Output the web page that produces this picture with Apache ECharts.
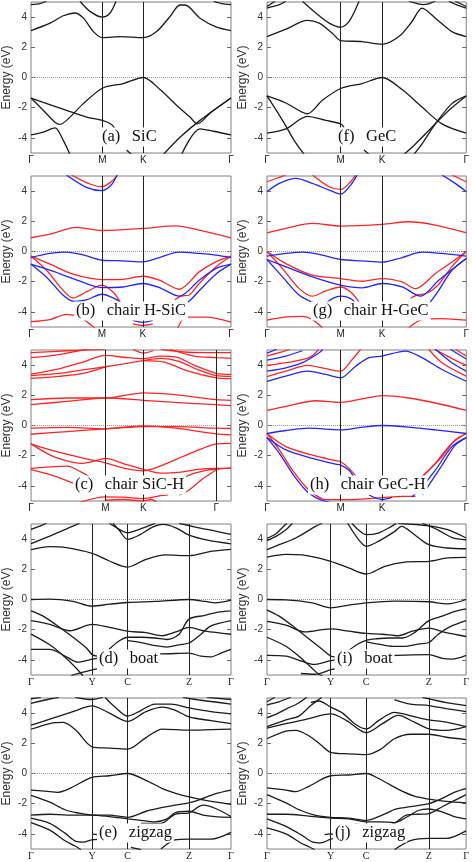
<!DOCTYPE html>
<html><head><meta charset="utf-8">
<script src="https://cdn.jsdelivr.net/npm/echarts@6/dist/echarts.min.js"></script>
<style>html,body{margin:0;padding:0;background:#fff}#c{width:472px;height:862px}</style>
</head><body><div id="c"></div>
<script>
// ---- high-symmetry points (fraction of path, %) ----
const hexNames = ['Γ','M','K','Γ'];
const rectNames = ['Γ','Y','C','Z','Γ'];
const kA = [0,35.7,56.2,100];
const kF = [0,37,57.8,100];
const kB = [0,35.5,55.9,100];
const kG = [0,37,57.8,100];
const kC = [0,40.2,60.7,100];
const kH = [0,37,57.8,100];
const kD = [0,30.6,48.3,79,100];
const kI = [0,32,49.8,81.3,100];
const kE = [0,30.5,48.3,79,100];
const kJ = [0,32,49.8,81.3,100];
const yTicks = [-4,-2,0,2,4];

// ---- bands: [k, E(eV)] ----
const aBlack = [
 [[0,3.11],[9.5,3.6],[16.2,4.09],[22,4.27],[26.2,3.93],[31.2,3.04],[35.7,2.64],[44.5,2.71],[56.2,2.64],[62.8,3.04],[69.5,4.04],[74.5,4.8],[77,4.8],[84.5,3.93],[92.8,3.33],[100,3.11]],
 [[24.5,5.05],[29.5,4.38],[35.7,4.0],[39.5,4.27],[42.5,5.05]],
 [[0,4.82],[4.5,4.89],[7.8,5.05]],
 [[91.2,5.05],[95.3,4.89],[100,4.82]],
 [[0,-1.36],[6.2,-2.18],[12,-2.96],[14.2,-3.11],[17.8,-2.84],[26.2,-1.73],[35.7,-0.71],[46.2,-0.4],[56.2,0],[64.5,-0.8],[72.8,-1.84],[79.5,-2.62],[83.2,-3.07],[89.5,-2.36],[100,-1.36]],
 [[0,-1.36],[17.8,-2.18],[27.8,-2.62],[35.7,-2.84],[40.3,-3.11],[42,-3.4]],
 [[0,-3.8],[6.2,-3.62],[12,-3.33],[16.2,-4.18],[19.5,-5.1]],
 [[100,-1.36],[84.5,-2.84],[74.5,-3.96],[66.2,-5.1]],
 [[75.3,-5.1],[84.5,-3.4],[91.2,-3.56],[100,-3.8]],
 [[47.8,-4.8],[50.3,-5.1]]
];
const fBlack = [
 [[0,2.71],[9.5,3.2],[20.3,3.78],[26.2,3.6],[32.8,2.93],[37,2.44],[47.8,2.38],[57.8,2.2],[66.2,2.71],[72.8,3.71],[77.8,4.6],[84.5,3.93],[92.8,3.04],[100,2.71]],
 [[17.8,5.05],[24.5,4.27],[31.2,3.6],[37,3.33],[41.2,3.71],[46.2,5.05]],
 [[0,4.6],[6.2,4.82],[9.5,5.05]],
 [[0,4.7],[4,5.05]],
 [[71.2,5.05],[78.7,4.82],[84.5,5.05]],
 [[91.2,5.05],[96.2,4.76],[100,4.6]],
 [[94.5,5.05],[100,4.7]],
 [[0,-1.22],[9.5,-1.69],[20.3,-2.4],[27.8,-1.51],[37,-0.73],[47.8,-0.4],[57.8,0],[67.8,-0.8],[77.8,-1.96],[87.8,-3.07],[100,-3.69]],
 [[0,-1.22],[7.8,-2.84],[13.7,-4.18],[18.7,-5.1]],
 [[0,-3.69],[9.5,-3.4],[20.3,-2.58],[29.5,-2.84],[37,-3.07],[38.7,-3.3]],
 [[100,-1.22],[91.2,-2.18],[82.8,-3.29],[74.5,-4.4],[68.7,-5.1]],
 [[100,-1.22],[92.8,-1.73],[84.5,-3.07],[77.8,-4.4],[73.7,-5.1]],
 [[48.7,-4.8],[51.2,-5.1]]
];
const bRed = [
 [[0,0.91],[9.5,1.15],[22.7,1.6],[35.5,1.39],[55.9,1.53],[72.5,1.7],[84.1,1.42],[100,0.91]],
 [[20.2,5.07],[29.4,4.47],[35.5,4.29],[40.1,4.62],[43.4,5.07]],
 [[0,-0.31],[9.5,-0.84],[21,-1.5],[35.5,-1.86],[45.9,-1.84],[55.9,-1.64],[64.2,-1.9],[74.1,-2.5],[84.1,-1.35],[92.4,-0.69],[100,-0.31]],
 [[0,-0.31],[7.8,-1.24],[15.3,-2.46],[21,-3.08],[27.7,-2.68],[35.5,-2.23],[41,-2.68],[45.1,-3.45]],
 [[100,-0.31],[92.4,-1.02],[84.1,-2.12],[79.1,-2.88],[75,-2.95],[72,-3.2]],
 [[0,-4.65],[9.5,-4.51],[17.7,-4.16],[24.4,-4.34],[30.2,-4.89],[32,-5.1]],
 [[73.3,-5.1],[77.4,-4.34],[87.4,-4.34],[100,-4.67]],
 [[50.9,-4.8],[55.9,-4.9],[60.9,-4.8]]
];
const bBlue = [
 [[17.7,5.07],[27.7,4.25],[35.5,4.03],[40.1,4.4],[43,5.07]],
 [[0,-0.4],[9.5,-0.13],[17.7,-0.04],[26,-0.22],[35.5,-0.58],[45.9,-0.62],[55.9,-0.69],[64.2,-0.4],[74.1,-0.04],[84.1,-0.13],[92.4,-0.24],[100,-0.4]],
 [[0,-0.84],[9.5,-1.24],[21,-1.79],[35.5,-2.39],[45.9,-2.35],[55.9,-2.12],[64.2,-2.39],[74.1,-2.96],[84.1,-1.9],[92.4,-1.13],[100,-0.84]],
 [[0,-0.84],[7.8,-1.7],[16.1,-2.9],[21.5,-3.3],[27.7,-3.2],[35.5,-2.83],[41.8,-3.12],[45.9,-3.5]],
 [[100,-0.84],[92.4,-1.5],[84.1,-2.6],[79,-3.3],[75,-3.6]],
 [[50.9,-4.56],[55.9,-4.69],[60.9,-4.56]]
];
const gRed = [
 [[0,4.62],[6.2,4.91],[9.5,5.07]],
 [[22.8,5.07],[31.2,4.29],[37,4.11],[42,4.62],[44.5,5.07]],
 [[92.8,5.07],[100,4.62]],
 [[0,1.24],[9.5,1.53],[22.8,1.86],[37,1.68],[57.8,1.79],[71.2,1.97],[84.5,1.75],[100,1.24]],
 [[0,0],[9.5,-0.8],[22.8,-1.57],[37,-1.79],[47.8,-1.97],[57.8,-1.79],[67.8,-2.01],[74.5,-2.46],[84.5,-1.46],[92.8,-0.69],[100,0]],
 [[0,0],[7.8,-1.13],[16.2,-2.46],[22.8,-2.96],[29.5,-2.61],[37,-2.35],[42,-2.68],[46.2,-3.34]],
 [[100,0],[92.8,-1.0],[86,-2.2],[80.5,-2.75],[75,-2.9],[72,-3.1]],
 [[0,-4.55],[9.5,-4.33],[17.8,-4.29],[22.8,-4.51],[27.8,-5.05]],
 [[71.2,-5.05],[77.8,-4.51],[87.8,-4.44],[100,-4.55]]
];
const gBlue = [
 [[0,3.96],[6.2,4.51],[14.5,4.84],[22.8,4.51],[31.2,4.07],[37,3.8],[42,4.4],[45.3,5.07]],
 [[87.8,5.07],[94.5,4.51],[100,3.96]],
 [[0,-0.31],[9.5,-0.13],[17.8,-0.04],[27.8,-0.24],[37,-0.53],[47.8,-0.62],[57.8,-0.71],[67.8,-0.4],[77.8,-0.04],[87.8,-0.13],[100,-0.31]],
 [[0,-0.53],[9.5,-1.02],[22.8,-1.68],[37,-2.23],[47.8,-2.41],[57.8,-2.12],[67.8,-2.35],[77,-2.96],[86.2,-1.9],[100,-0.46]],
 [[0,-0.53],[7.8,-1.68],[16.2,-2.9],[24.5,-3.45],[27.8,-3.5],[32.8,-3.12],[37,-2.96],[42,-3.12],[44.5,-3.45]],
 [[100,-0.46],[92.8,-1.24],[86.2,-2.57],[81.2,-3.45],[77.8,-3.67]]
];
const cRed = [
 [[0,4.82],[20,4.95],[40.2,5.05]],
 [[0,4.49],[15,4.7],[28,5.0],[32,5.1]],
 [[0,3.4],[15,3.75],[28,4.2],[40.2,4.64],[50,4.52],[60.7,4.42],[70,4.6],[78,4.55],[88,4.0],[100,3.45],[108,3.38]],
 [[0,3.3],[15,3.45],[28,3.68],[40.2,3.89],[50,4.08],[60.7,4.3],[70,4.45],[80,4.25],[90,3.7],[100,3.3],[108,3.25]],
 [[0,3.12],[15,3.25],[28,3.45],[40.2,3.89]],
 [[60.7,4.3],[72,4.2],[85,3.6],[100,3.15],[108,3.1]],
 [[70,5.05],[85,4.85],[100,4.82],[108,4.82]],
 [[75,5.05],[88,4.6],[100,4.5],[108,4.45]],
 [[55,5.05],[60.7,4.8],[66,4.95]],
 [[0,1.71],[19.6,1.82],[40.2,1.82],[60.7,2.16],[78,2.04],[100,1.71],[108,1.67]],
 [[0,1.38],[19.6,1.6],[40.2,1.82],[60.7,1.67],[78,1.53],[100,1.38],[108,1.31]],
 [[0,-0.18],[19.6,-0.13],[40.2,-0.22],[60.7,-0.07],[78,-0.07],[100,-0.18],[108,-0.2]],
 [[0,-0.58],[19.6,-0.4],[40.2,-0.22],[60.7,-0.02],[78,-0.18],[100,-0.56],[108,-0.62]],
 [[0,-1.22],[10.4,-1.62],[28.7,-2.18],[40.2,-2.47],[50.6,-2.84],[60.7,-3.0],[68.9,-2.73],[81.7,-2.07],[92.7,-1.51],[100,-1.22],[108,-1.18]],
 [[0,-1.22],[10.4,-1.96],[21,-2.4],[27,-2.51],[36,-2.3],[40.2,-2.18],[50.6,-2.55],[60.7,-2.9],[70,-3.15],[80,-3.1],[90,-2.9],[100,-2.84],[108,-2.84]],
 [[0,-2.84],[19.6,-2.69],[26.9,-3.07],[34,-3.6],[38,-4.2]],
 [[0,-2.93],[14,-3.4],[28,-4.1]],
 [[70.4,-4.3],[85,-3.3],[95,-2.95],[100,-2.9],[108,-2.8]],
 [[100,-2.95],[92,-3.6],[85,-4.3],[80,-4.6]],
 [[26,-5.1],[40.2,-4.73],[50,-4.75],[60.7,-4.84],[70,-4.65],[74,-4.6]],
 [[40.2,-4.95],[50,-4.9],[60.7,-5.0],[65,-4.9],[68,-5.1]]
];
const hRed = [
 [[0,3.24],[9.5,3.6],[20.3,3.98],[29.5,3.76],[37,3.6],[42.8,4.38],[47,5.05]],
 [[81.2,5.05],[87.8,4.16],[100,3.27]],
 [[0,3.98],[9.5,4.16],[21.2,4.49],[26,5.05]],
 [[84,5.05],[92,4.5],[100,3.98]],
 [[0,4.6],[6.2,4.82],[11.5,5.05]],
 [[94.5,5.05],[100,4.6]],
 [[0,1.0],[9.5,1.27],[24.5,1.64],[37,1.53],[47.8,1.76],[57.8,1.98],[71.2,1.82],[84.5,1.49],[100,1.0]],
 [[0,-0.53],[9.5,-1.4],[22.8,-1.96],[34.5,-2.33],[37,-2.4],[41.2,-2.84],[46.2,-3.62]],
 [[0,-0.53],[6.2,-1.62],[12.8,-2.96],[19.5,-4.07],[24.5,-4.62],[29.5,-4.91],[37,-4.91],[47.8,-4.87],[57.8,-4.78],[67.8,-4.69],[74.5,-4.69]],
 [[100,-0.53],[92.8,-1.18],[84.5,-2.51],[77.8,-3.4],[72.8,-4.07]],
 [[100,-0.53],[94.5,-0.96],[87.8,-2.07],[81.2,-2.96],[76.2,-3.62]]
];
const hBlue = [
 [[0,2.93],[9.5,3.27],[20.3,3.6],[29.5,3.38],[37,3.16],[44.5,3.93],[51.2,4.49],[57.8,4.6],[69.5,4.93],[77.8,4.49],[87.8,3.71],[100,2.93]],
 [[0,3.6],[9.5,3.82],[17.8,4.16],[26.2,4.82],[28,5.05]],
 [[84.5,5.05],[92.8,4.16],[100,3.6]],
 [[0,4.33],[9.5,4.6],[17.8,4.95]],
 [[92,5.05],[100,4.4]],
 [[0,4.8],[5,5.05]],
 [[0,-0.53],[9.5,-0.33],[21.2,-0.18],[37,-0.29],[47.8,-0.11],[57.8,0],[71.2,-0.11],[84.5,-0.29],[100,-0.53]],
 [[0,-0.8],[9.5,-1.62],[22.8,-2.18],[34.5,-2.56],[37,-2.62],[41.2,-2.96],[44.5,-3.62]],
 [[0,-0.8],[6.2,-1.84],[12.8,-3.18],[19.5,-4.29],[24.5,-4.78],[27.8,-4.96],[32,-5.1]],
 [[51.2,-4.6],[57.8,-4.9],[62.8,-4.76]],
 [[100,-0.8],[92.8,-1.4],[84.5,-2.96],[77.8,-4.07],[72.8,-4.73]],
 [[100,-0.8],[94.5,-1.3],[88,-2.6],[82,-3.8],[78,-4.6]]
];
const dBlack = [
 [[0,3.3],[9.4,3.5],[17.7,3.43],[30.6,3.05],[39.2,2.55],[48.3,2.15],[57.5,2.66],[67.4,2.95],[79,2.9],[90.6,3.2],[100,3.32]],
 [[0,3.7],[9.4,4.2],[21,4.86],[24.3,5.05]],
 [[0,4.64],[4.5,4.86],[7.8,5.05]],
 [[39.2,5.05],[44.2,4.64],[48.3,4.42],[54.1,4.64],[60.8,4.97],[62,5.05]],
 [[41,5.05],[44,4.6],[48.3,3.98],[54.1,4.26],[60.8,4.79],[65.7,4.97],[72.4,4.75],[79,4.26],[88.9,3.91],[100,3.69]],
 [[74,5.05],[83.9,4.75],[92.2,4.53],[100,4.31]],
 [[0,0],[9.4,0.02],[21,-0.13],[30.6,-0.44],[39.2,-0.31],[48.3,-0.2],[62.4,-0.13],[79,0],[87.3,-0.13],[92.2,-0.22],[100,-0.04]],
 [[0,-1.4],[9.4,-1.65],[19.4,-2.07],[30.6,-1.65],[39.2,-1.85],[48.3,-2.1],[57.5,-2.2],[65.7,-2.4],[72.4,-2.15],[79,-1.85],[87.3,-2.1],[100,-2.3]],
 [[0,-0.75],[6.1,-1.1],[14.4,-1.85],[21,-2.5],[27.6,-3.2],[30.6,-3.65],[33,-3.75]],
 [[0,-2.29],[9.4,-3.0],[17.7,-3.9],[23,-4.6],[26,-5.05]],
 [[0,-3.3],[9.4,-3.3],[17.7,-3.8],[23.5,-4.15],[30.6,-3.95],[33,-3.9]],
 [[20,-5.05],[25,-4.85],[30.6,-4.66],[33,-4.6]],
 [[39,-3.3],[44,-2.75],[48.3,-2.5],[55,-2.5],[62,-2.55],[68,-2.65],[74,-2.3],[79,-1.3],[87,-1.05],[93,-0.85],[100,-0.75]],
 [[48.3,-2.73],[55,-2.85],[62,-3.05],[68,-3.15],[74,-3.0],[79,-2.88],[85,-2.3],[90,-1.75],[100,-1.4]],
 [[45,-4.1],[55,-3.6],[65,-3.6],[79,-3.55],[85,-3.75],[90,-3.8],[95,-3.55],[100,-3.3]]
];
const iBlack = [
 [[0,2.8],[9.5,2.99],[17.7,2.95],[32,2.53],[41,2.09],[49.8,1.69],[59.2,2.2],[69.2,2.48],[81.3,2.53],[90.7,2.75],[100,2.79]],
 [[0,3.3],[6.1,3.63],[14.4,4.07],[24.4,4.84],[27.7,5.05]],
 [[0,3.9],[4.5,4.18],[9.5,4.62],[12.8,5.05]],
 [[0,4.05],[4.5,4.35],[8,4.8],[10,5.05]],
 [[42.6,5.05],[46,4.6],[49.8,4.29],[55.9,4.4],[62.5,4.84],[65,5.05]],
 [[40.5,5.05],[46,3.96],[49.8,3.52],[55.9,3.85],[64.2,4.51],[67.5,4.84],[74.1,4.29],[81.3,3.63],[90.7,3.41],[100,3.36]],
 [[65.8,5.05],[81.3,4.88],[90.7,4.62],[100,4.07]],
 [[78,5.05],[86,4.6],[93,4.1],[100,3.95]],
 [[0,0],[9.5,-0.02],[22.7,-0.22],[32,-0.55],[41,-0.37],[49.8,-0.22],[64.2,-0.11],[81.3,-0.15],[90.7,-0.29],[100,0]],
 [[0,-1.45],[9.5,-1.7],[19,-2.15],[32,-1.95],[41,-2.1],[49.8,-2.25],[58,-2.3],[66,-2.4],[73,-2.1],[81.3,-1.9],[90,-2.2],[100,-2.45]],
 [[0,-0.7],[6.1,-1.1],[14.4,-1.9],[21,-2.6],[27.7,-3.3],[32,-3.75],[34,-3.8]],
 [[0,-2.5],[9.5,-3.1],[17.7,-3.95],[23,-4.6],[26,-4.95],[28,-5.05]],
 [[0,-3.7],[9.5,-3.75],[17.7,-4.1],[23.5,-4.3],[32,-4.05],[34,-4.0]],
 [[17,-4.9],[24,-4.95],[32,-4.65],[34,-4.6]],
 [[40,-3.5],[45,-3.0],[49.8,-2.7],[55,-2.6],[62,-2.55],[68,-2.55],[74,-2.2],[81.3,-1.4],[88,-1.1],[94,-0.8],[100,-0.62]],
 [[49.8,-2.8],[56,-2.95],[63,-3.1],[70,-3.1],[76,-2.95],[81.3,-2.85],[86,-2.3],[92,-1.8],[100,-1.4]],
 [[45,-4.2],[55,-3.8],[65,-3.7],[81.3,-3.65],[88,-3.9],[93,-3.95],[100,-3.7]]
];
const eBlack = [
 [[0,2.93],[9.4,3.31],[16.1,3.38],[22.7,2.83],[30.5,1.77],[39.2,1.68],[48.3,1.61],[57.5,2.38],[65.7,2.94],[79,2.87],[90.6,2.91],[100,2.94]],
 [[0,3.2],[9.4,3.6],[21,4.1],[30.5,4.48],[39.2,4.0],[48.3,3.45],[57.5,4.1],[65.7,4.4],[72,4.2],[79,3.75],[90,3.5],[100,3.3]],
 [[37,5.05],[42,4.4],[48.3,3.8],[54,4.1],[62,4.6],[70,4.6],[79,4.35],[90,4.1],[100,3.95]],
 [[0,4.65],[10,4.95],[14,5.05]],
 [[0,4.95],[5,5.05]],
 [[22,5.05],[30.5,4.9],[36,5.05]],
 [[76,5.05],[85,4.85],[100,4.6]],
 [[88,5.05],[100,4.9]],
 [[0,-1.1],[9.4,-1.2],[13,-1.25],[20,-0.95],[30.5,-0.25],[39.2,-0.15],[48.3,0],[57.5,-0.45],[65.7,-1.0],[72,-1.3],[79,-1.55],[88,-1.8],[100,-2.05]],
 [[0,-1.45],[9.4,-1.9],[17,-2.4],[23,-2.6],[30.5,-2.75],[39.2,-2.75],[48.3,-2.9],[57.5,-2.5],[65.7,-2.25],[72,-2.1],[79,-1.95],[85,-1.7],[92,-1.35],[100,-1.1]],
 [[0,-2.75],[9.4,-2.7],[18,-2.75],[30.5,-2.75],[39.2,-2.85],[48.3,-3.0],[55,-3.1],[62,-3.2],[68,-3.0],[72,-2.6],[79,-2.5],[86,-2.75],[92,-2.85],[100,-2.9]],
 [[0,-2.95],[9.4,-3.3],[17,-3.95],[22.5,-4.5],[26,-4.55],[30.5,-4.4],[35,-4.35]],
 [[0,-3.25],[9.4,-3.75],[17,-4.45],[22,-4.8],[25,-5.05]],
 [[30.5,-4.0],[33,-4.05]],
 [[55,-3.3],[65,-3.3],[72,-2.7],[79,-2.6],[86,-2.1],[92,-2.3],[100,-2.85]],
 [[65,-5.0],[72,-4.4],[79,-4.35],[90,-4.35],[100,-3.9]],
 [[50,-4.9],[55,-5.05]]
];
const jBlack = [
 [[0,2.3],[9.5,2.8],[14.4,2.85],[21,2.5],[27,1.9],[32,1.4],[41,1.3],[49.8,1.25],[57,1.6],[64,2.3],[72,2.6],[81.3,2.6],[90,2.4],[100,2.25]],
 [[0,3.0],[9.5,3.3],[20,3.6],[32,3.95],[40,3.5],[49.8,2.7],[58,3.3],[66,3.85],[74,3.4],[81.3,2.95],[90,2.85],[100,3.1]],
 [[0,3.1],[9.5,3.55],[16,3.8],[22,4.5],[26,4.9],[27.5,5.05]],
 [[22,4.7],[26,4.8],[32,4.4],[38,4.0],[44,3.3],[49.8,2.95],[56,3.5],[64,4.05],[70,3.9],[76,3.7],[81.3,3.55],[90,3.4],[100,3.1]],
 [[0,3.7],[5,3.95],[10,4.3],[15,4.6],[20,5.05]],
 [[0,4.55],[6,4.75],[12,5.05]],
 [[0,4.75],[4,5.05]],
 [[64,4.9],[72,4.6],[81.3,4.5],[90,4.3],[100,4.1]],
 [[78,5.05],[90,4.7],[100,4.5]],
 [[0,-0.95],[9.5,-1.1],[14.4,-1.2],[21,-0.85],[32,-0.15],[41,-0.1],[49.8,0],[57,-0.4],[66,-1.05],[74,-1.5],[81.3,-1.7],[90,-1.85],[100,-1.95]],
 [[0,-1.4],[9.5,-1.95],[17,-2.45],[24,-2.75],[32,-2.9],[41,-2.95],[49.8,-3.1],[57,-2.8],[65,-2.35],[72,-2.2],[81.3,-2.0],[88,-1.65],[94,-1.25],[100,-1.0]],
 [[0,-2.7],[9.5,-2.7],[20,-2.8],[32,-2.95],[41,-3.0],[49.8,-3.2],[57,-3.2],[64,-3.25],[70,-2.9],[76,-2.45],[81.3,-2.35],[88,-2.55],[94,-2.85],[100,-3.0]],
 [[0,-3.0],[9.5,-3.5],[17,-4.05],[23,-4.55],[27,-4.6],[32,-4.35],[34,-4.3]],
 [[0,-3.6],[9.5,-4.0],[17,-4.6],[21,-4.85],[24,-5.05]],
 [[29,-4.05],[32,-4.0],[34,-4.05]],
 [[44,-3.35],[49.8,-3.4],[57,-3.45],[64,-3.3],[70,-2.75],[76,-2.7],[81.3,-2.65],[88,-2.2],[94,-1.8],[100,-1.4]],
 [[64,-5.05],[72,-4.45],[81.3,-4.3],[90,-4.3],[100,-3.8]]
];

// ---- layout / styling ----
const COL = [31, 267], ROW = [2, 176, 350, 524, 698], W = 200, H = 151;
const BLACK = '#1c1c1c', RED = '#ff2424', BLUE = '#2424ff';
const SANS = '"Liberation Sans", Arial, sans-serif', SERIF = '"Liberation Serif", "Times New Roman", serif';
const GAP = '  \u2009';

const panels = [
 {col:0,row:0,k:kA,names:hexNames,sets:[[aBlack,BLACK]],label:'(a)'+GAP+'SiC',lx:100,font:SANS},
 {col:0,row:1,k:kB,names:hexNames,sets:[[bRed,RED],[bBlue,BLUE]],label:'(b)'+GAP+'chair H-SiC',lx:74,font:SANS},
 {col:0,row:2,k:kC,names:hexNames,sets:[[cRed,RED]],label:'(c)'+GAP+'chair SiC-H',lx:73,font:SANS,xmax:108,zeroEnd:100},
 {col:0,row:3,k:kD,names:rectNames,sets:[[dBlack,BLACK]],label:'(d)'+GAP+'boat',lx:97,font:SERIF},
 {col:0,row:4,k:kE,names:rectNames,sets:[[eBlack,BLACK]],label:'(e)'+GAP+'zigzag',lx:97,font:SERIF},
 {col:1,row:0,k:kF,names:hexNames,sets:[[fBlack,BLACK]],label:'(f)'+GAP+'GeC',lx:336,font:SANS},
 {col:1,row:1,k:kG,names:hexNames,sets:[[gRed,RED],[gBlue,BLUE]],label:'(g)'+GAP+'chair H-GeC',lx:311,font:SANS},
 {col:1,row:2,k:kH,names:hexNames,sets:[[hRed,RED],[hBlue,BLUE]],label:'(h)'+GAP+'chair GeC-H',lx:308,font:SANS},
 {col:1,row:3,k:kI,names:rectNames,sets:[[iBlack,BLACK]],label:'(i)'+GAP+'boat',lx:335,font:SERIF},
 {col:1,row:4,k:kJ,names:rectNames,sets:[[jBlack,BLACK]],label:'(j)'+GAP+'zigzag',lx:333,font:SERIF}
];

const grid = [], xAxis = [], yAxis = [], series = [], graphic = [];
panels.forEach((p, i) => {
  const left = COL[p.col], top = ROW[p.row], xmax = p.xmax || 100;
  grid.push({left, top, width: W, height: H, show: true, borderColor: '#808080', borderWidth: 1, backgroundColor: 'transparent'});
  xAxis.push({
    gridIndex: i, type: 'value', min: 0, max: xmax,
    axisLine: {show: false}, axisTick: {show: false}, splitLine: {show: false},
    axisLabel: {
      customValues: p.k, margin: 2, fontSize: 10, color: '#222', fontFamily: p.font,
      formatter: (v) => { const idx = p.k.findIndex(t => Math.abs(t - v) < 1e-6); return idx >= 0 ? p.names[idx] : ''; }
    }
  });
  yAxis.push({
    gridIndex: i, type: 'value', min: -5, max: 5,
    axisLine: {show: false}, splitLine: {show: false},
    axisTick: {show: true, inside: true, length: 4, customValues: yTicks, lineStyle: {color: '#666'}},
    axisLabel: {customValues: yTicks, margin: 4, fontSize: 10, color: '#333', fontFamily: SANS},
    name: 'Energy (eV)', nameLocation: 'middle', nameGap: 18,
    nameTextStyle: {fontSize: 12, color: '#333', fontFamily: SANS}
  });
  yAxis.push({
    gridIndex: i, type: 'value', min: -5, max: 5, position: 'right',
    axisLine: {show: false}, splitLine: {show: false}, axisLabel: {show: false},
    axisTick: {show: true, inside: true, length: 4, customValues: yTicks, lineStyle: {color: '#666'}}
  });
  const inner = p.k.filter(v => v > 0 && v < xmax);
  series.push({
    type: 'line', xAxisIndex: i, yAxisIndex: 2 * i, silent: true, showSymbol: false, z: 1,
    data: [[0, 0], [p.zeroEnd || xmax, 0]],
    lineStyle: {color: '#9a9a9a', type: 'dotted', width: 1},
    markLine: {
      silent: true, symbol: ['none', 'none'], label: {show: false}, animation: false,
      lineStyle: {color: '#222', type: 'solid', width: 1},
      emphasis: {disabled: true},
      data: inner.map(v => ({xAxis: v}))
    }
  });
  p.sets.forEach(([bands, color]) => {
    bands.forEach(b => {
      series.push({
        type: 'line', xAxisIndex: i, yAxisIndex: 2 * i, silent: true, showSymbol: false,
        smooth: 0.3, clip: true, z: 2, data: b,
        lineStyle: {color, width: 1.3}
      });
    });
  });
  graphic.push({
    type: 'text', x: p.lx, y: top + 135, z: 100, silent: true,
    style: {text: p.label, font: '16.5px ' + SERIF, fill: '#111', textVerticalAlign: 'middle',
            backgroundColor: '#fff', padding: [1, 2]}
  });
});

const chart = echarts.init(document.getElementById('c'), null, {renderer: 'canvas'});
chart.setOption({animation: false, grid, xAxis, yAxis, series, graphic});
</script>
</body></html>
